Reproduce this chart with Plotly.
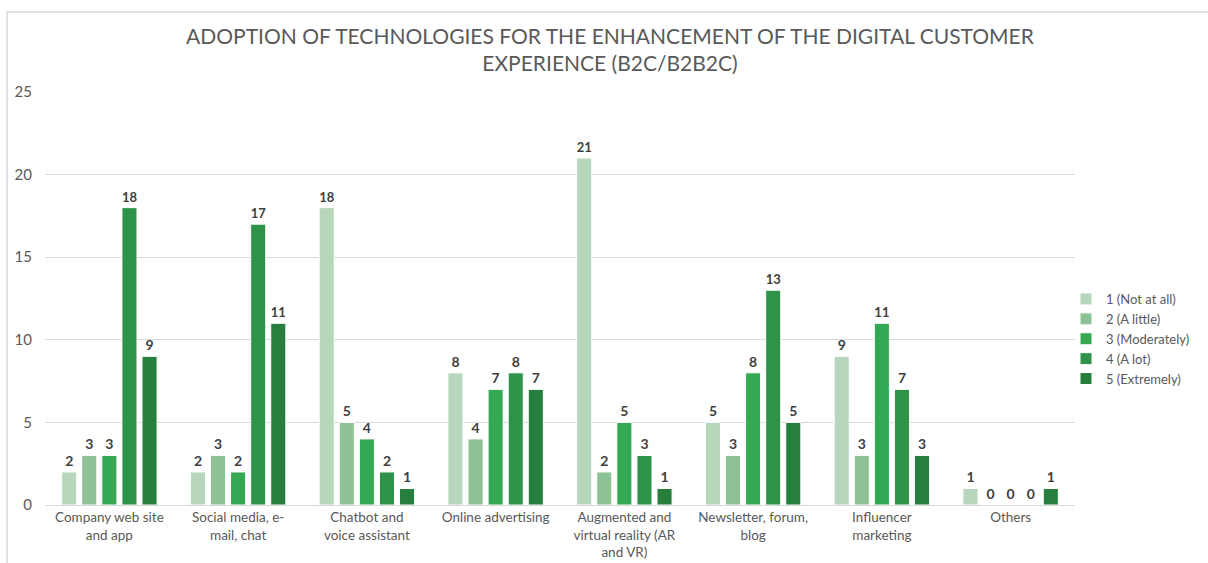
import plotly.graph_objects as go

categories = [
    "Company web site<br>and app",
    "Social media, e-<br>mail, chat",
    "Chatbot and<br>voice assistant",
    "Online advertising",
    "Augmented and<br>virtual reality (AR<br>and VR)",
    "Newsletter, forum,<br>blog",
    "Influencer<br>marketing",
    "Others",
]
series_names = ["1 (Not at all)", "2 (A little)", "3 (Moderately)", "4 (A lot)", "5 (Extremely)"]
not_at_all = [2, 2, 18, 8, 21, 5, 9, 1]
a_little = [3, 3, 5, 4, 2, 3, 3, 0]
moderately = [3, 2, 4, 7, 5, 8, 11, 0]
a_lot = [18, 17, 2, 8, 3, 13, 7, 0]
extremely = [9, 11, 1, 7, 1, 5, 3, 1]
colors = ["#b6d7bb", "#8dc294", "#34a853", "#2e9249", "#267f3d"]

FONT = "Lato"
W, H = 1208, 563
L, R, T, B = 45, 133, 92, 58

fig = go.Figure()
for name, vals, col in zip(series_names, [not_at_all, a_little, moderately, a_lot, extremely], colors):
    fig.add_trace(go.Bar(
        x=categories, y=vals, name=name,
        marker=dict(color=col, line=dict(color="white", width=1)),
        text=[str(v) for v in vals], textposition="outside", cliponaxis=False,
        textfont=dict(family=FONT, size=14, color="#404040", weight="bold"),
    ))

pw = W - L - R
ph = H - T - B
fig.update_layout(
    width=W, height=H,
    margin=dict(l=L, r=R, t=T, b=B, autoexpand=False),
    paper_bgcolor="white", plot_bgcolor="white",
    font=dict(family=FONT, color="#595959"),
    barmode="group", bargap=0.22, bargroupgap=0.25,
    title=dict(
        text="ADOPTION OF TECHNOLOGIES FOR THE ENHANCEMENT OF THE DIGITAL CUSTOMER<br>EXPERIENCE (B2C/B2B2C)",
        x=610 / W, xanchor="center", xref="container",
        y=1 - 44 / H, yanchor="top", yref="container",
        font=dict(family=FONT, size=21, color="#595959"),
    ),
    legend=dict(
        xref="container", yref="container",
        x=1066 / W, xanchor="left",
        y=1 - 339 / H, yanchor="middle",
        font=dict(family=FONT, size=13, color="#595959"),
        itemwidth=30, tracegroupgap=0, bgcolor="rgba(0,0,0,0)",
    ),
    xaxis=dict(
        automargin=False,
        showgrid=False, showline=True, linecolor="#d9d9d9", linewidth=1,
        ticks="", tickfont=dict(family=FONT, size=13.5, color="#595959"),
        ticklabelstandoff=0,
    ),
    yaxis=dict(
        automargin=False,
        range=[0, 25], dtick=5, showgrid=True, gridcolor="#d9d9d9", gridwidth=1,
        zeroline=False, showline=False, ticks="",
        tickfont=dict(family=FONT, size=15, color="#595959"),
        ticklabelstandoff=12,
    ),
    shapes=[dict(
        type="rect", xref="paper", yref="paper",
        x0=(7 - L) / pw, x1=(W + 20 - L) / pw,
        y0=-(B + 20) / ph, y1=1 + (T - 12) / ph,
        line=dict(color="#d9d9d9", width=1.5), fillcolor="rgba(0,0,0,0)", layer="below",
    )],
)

fig.write_html("out.html")
